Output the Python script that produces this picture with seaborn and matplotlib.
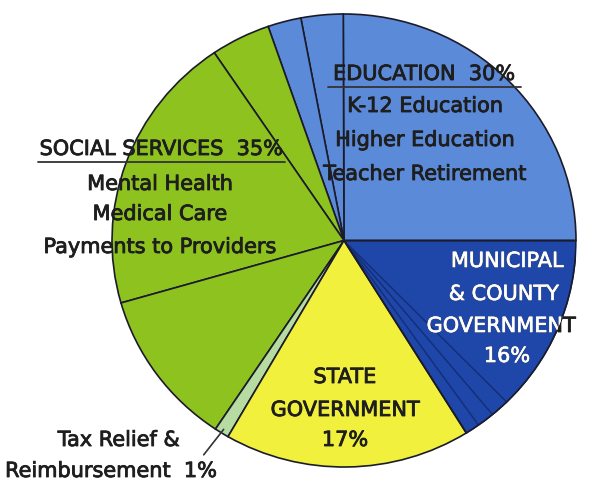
import numpy as np
import matplotlib
matplotlib.use("Agg")
import matplotlib.pyplot as plt
import matplotlib.patheffects as pe
import seaborn as sns
from matplotlib.lines import Line2D
from matplotlib.patches import Wedge

# Budget shares (percent) by category
categories = ["Education", "Social Services", "Tax Relief & Reimbursement",
              "State Government", "Municipal & County Government"]
totals = [30, 35, 1, 17, 16]

# Programs inside each category, counter-clockwise from 3 o'clock
education_parts = [24.8, 2.9, 2.3]
social_parts = [4.1, 19.8, 11.1]
tax_parts = [1]
state_parts = [17]
municipal_parts = [1.0, 1.2, 1.3, 12.5]

sns.set_theme(style="white")
plt.rcParams["font.family"] = ["DejaVu Sans"]

category_colors = ["#5b8ad9", "#8dc21f", "#b6dca2", "#f1f03c", "#1f47a9"]
groups = [education_parts, social_parts, tax_parts, state_parts, municipal_parts]

values, colors, owner = [], [], []
for i, parts in enumerate(groups):
    for v in parts:
        values.append(v)
        colors.append(category_colors[i])
        owner.append(i)

W, H = 590, 485
fig = plt.figure(figsize=(W / 100, H / 100), dpi=100)
fig.patch.set_facecolor("white")

# pie box: centre (344, 241.5), semi-axes 232 x 226.5 px
cx, cy, rx, ry = 344, 241.5, 232, 226.5
ax = fig.add_axes([(cx - rx) / W, 1 - (cy + ry) / H, 2 * rx / W, 2 * ry / H])

wedges, _ = ax.pie(values, colors=colors, startangle=0, counterclock=True,
                   radius=1, wedgeprops=dict(edgecolor="#1b1b2b", linewidth=1.2))
ax.set_aspect("auto")
ax.set_xlim(-1, 1)
ax.set_ylim(-1, 1)
ax.axis("off")

# municipal sub-slices: faint navy seams, state slice drawn on top
for w, o in zip(wedges, owner):
    if o == 4:
        w.set_edgecolor("#14307c")
        w.set_linewidth(1.0)
        w.set_zorder(1)
    elif o == 3:
        w.set_zorder(2)
    else:
        w.set_zorder(1.5)
muni = [w for w, o in zip(wedges, owner) if o == 4]
outline = Wedge((0, 0), 1, muni[0].theta1, muni[-1].theta2, fill=False,
                edgecolor="#1b1b2b", linewidth=1.2, zorder=2.5)
ax.add_patch(outline)


def px(x, y):
    return x / W, 1 - y / H


dark = "#1e1e1e"
fs = 15


def label(x, y, s, color=dark, **kw):
    t = fig.text(*px(x, y), s, ha="center", va="center", fontsize=fs,
                 color=color, **kw)
    t.set_path_effects([pe.withStroke(linewidth=0.6, foreground=color)])
    return t


# Education
label(424, 75, "EDUCATION  30%")
fig.add_artist(Line2D([328 / W, 521 / W], [1 - 88 / H, 1 - 88 / H],
                      color="#333333", lw=1.3))
for y, s in [(107, "K-12 Education"), (141, "Higher Education"),
             (175, "Teacher Retirement")]:
    label(425, y, s)

# Social services
label(161, 150, "SOCIAL SERVICES  35%")
fig.add_artist(Line2D([38 / W, 285 / W], [1 - 163 / H, 1 - 163 / H],
                      color="#333333", lw=1.3))
for y, s in [(185, "Mental Health"), (215, "Medical Care"),
             (248, "Payments to Providers")]:
    label(160, y, s)

# Municipal & county: white inside the slice, dark where it runs past the rim
clip = Wedge((0, 0), 1, muni[0].theta1, muni[-1].theta2, transform=ax.transData)
for (x, y, s) in [(507, 262, "MUNICIPAL"), (504, 295, "& COUNTY"),
                  (501, 327, "GOVERNMENT"), (507, 357, "16%")]:
    label(x, y, s)
    t = fig.text(*px(x, y), s, ha="center", va="center", fontsize=fs,
                 color="white")
    t.set_path_effects([pe.withStroke(linewidth=0.5, foreground="white")])
    t.set_clip_path(clip)

# State government
for y, s in [(378, "STATE"), (411, "GOVERNMENT"), (441, "17%")]:
    label(345, y, s)

# Tax relief with leader line
label(119, 441, "Tax Relief &")
label(111, 472, "Reimbursement  1%")
tax_w = [w for w, o in zip(wedges, owner) if o == 2][0]
mid = np.deg2rad((tax_w.theta1 + tax_w.theta2) / 2)
ax.annotate("", xy=(0.97 * np.cos(mid), 0.97 * np.sin(mid)), xycoords="data",
            xytext=px(202, 458), textcoords="figure fraction",
            arrowprops=dict(arrowstyle="-", color="#333333", lw=1.2))

fig.savefig("out.png", dpi=100, facecolor="white")
